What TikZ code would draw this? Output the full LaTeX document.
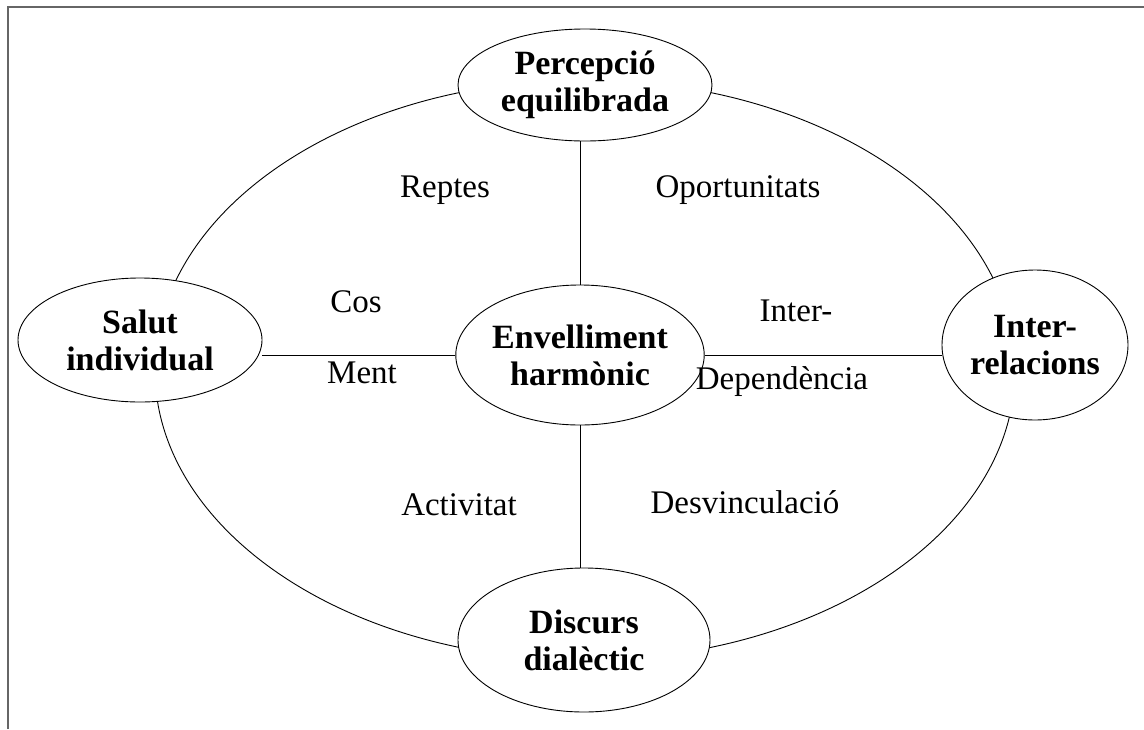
\documentclass[tikz,border=0pt]{standalone}
\usepackage{fontspec}
\setmainfont{Liberation Serif}
\usetikzlibrary{shapes.geometric}
\begin{document}
\begin{tikzpicture}[x=1pt,y=-1pt,
  concept/.style={ellipse,draw=black,line width=0.9pt,fill=white,inner sep=0pt,
    align=center,font=\fontsize{34}{37}\selectfont\bfseries},
  tag/.style={font=\fontsize{33}{36}\selectfont,inner sep=0pt},
  link/.style={line width=0.9pt}]
\useasboundingbox (0,0) rectangle (1144,729);
% frame
\draw[line width=2pt,gray!80!black] (7.5,729) -- (7.5,6.5) -- (1144,6.5);
% outer ring
\draw[line width=0.9pt] (585,370) ellipse [x radius=430,y radius=290];
% concepts
\node[concept,minimum width=254pt,minimum height=112pt] (per) at (585,85) {Percepció\\equilibrada};
\node[concept,minimum width=248pt,minimum height=140pt] (env) at (580,355) {Envelliment\\harmònic};
\node[concept,minimum width=244pt,minimum height=124pt] (sal) at (140,340) {Salut\\individual};
\node[concept,minimum width=186pt,minimum height=150pt] (int) at (1035,345) {Inter-\\relacions};
\node[concept,minimum width=252pt,minimum height=144pt] (dis) at (584,640) {Discurs\\dialèctic};
% spokes
\draw[link] (env.north) -- (env.north |- per.south);
\draw[link] (env.west) -- (sal.east |- env.west);
\draw[link] (env.east) -- (int.west |- env.east);
\draw[link] (env.south) -- (env.south |- dis.north);
% labels
\node[tag] (l1) at (445,190) {Reptes};
\node[tag] (l2) at (738,190) {Oportunitats};
\node[tag] (l3) at (356,302) {Cos};
\node[tag] (l4) at (362,373) {Ment};
\node[tag] (l5) at (796,311) {Inter-};
\node[tag] (l6) at (782,382) {Dependència};
\node[tag] (l7) at (459,505) {Activitat};
\node[tag] (l8) at (745,502) {Desvinculació};
\end{tikzpicture}
\end{document}
